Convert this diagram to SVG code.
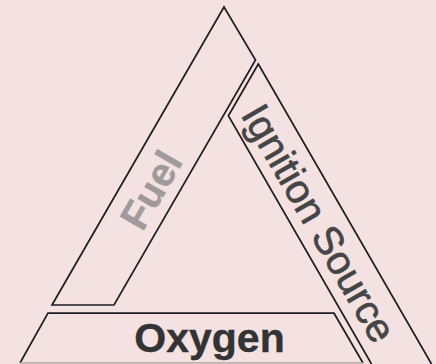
<svg xmlns="http://www.w3.org/2000/svg" width="436" height="364" viewBox="0 0 436 364">
  <style>
    .edge { fill: none; stroke: #1e1e1e; stroke-width: 1.7; stroke-linejoin: miter; }
    .lbl { font-family: "Liberation Sans", Arial, Helvetica, sans-serif; }
  </style>
  <rect x="0" y="0" width="436" height="364" fill="#f4e1e1"/>

  <g id="fuel">
    <polygon class="edge" points="224,7 255.5,60 114,305 52,305"/>
    <text class="lbl" transform="translate(151,190) rotate(-60)" x="0" y="14" text-anchor="middle" font-size="40" font-weight="bold" fill="#a09a9a" stroke="#a09a9a" stroke-width="0.4">Fuel</text>
  </g>

  <g id="ignition">
    <polyline class="edge" points="371.5,364 228.4,115.7 258.3,64 431.5,364"/>
    <text class="lbl" transform="translate(319,223) rotate(60)" x="0" y="14" text-anchor="middle" font-size="40" fill="#454545" stroke="#454545" stroke-width="0.7">Ignition Source</text>
  </g>

  <g id="oxygen">
    <polyline class="edge" points="20,363 48,313.2 334,313.2 363,363" stroke-width="2"/>
    <line x1="20" y1="362.8" x2="363" y2="362.8" stroke="#a8a0a0" stroke-width="1.2"/>
    <text class="lbl" x="209.5" y="351.5" text-anchor="middle" font-size="41" font-weight="bold" fill="#333333" stroke="#333333" stroke-width="0.4">Oxygen</text>
  </g>
</svg>
